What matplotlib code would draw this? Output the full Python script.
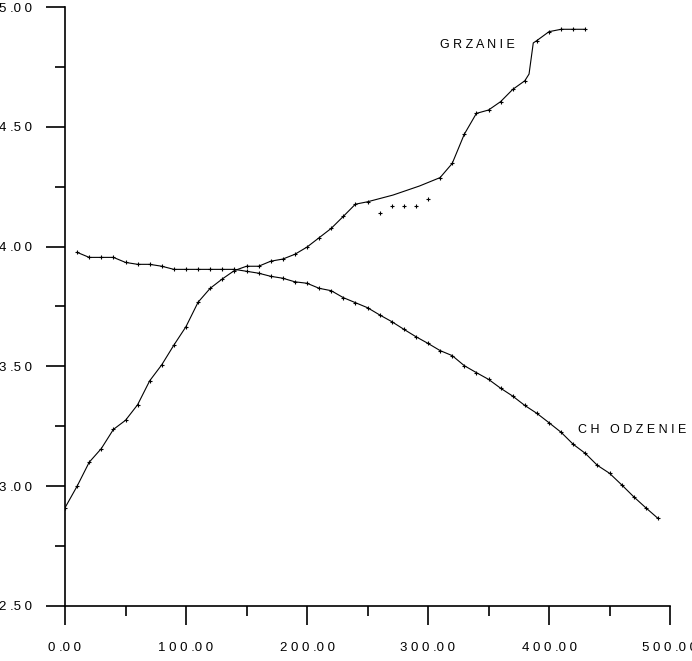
import matplotlib
matplotlib.use("Agg")
import matplotlib.pyplot as plt

# ---- data ----
grz_x = [0, 10, 20, 30, 40, 50, 60, 70, 80, 90, 100, 110, 120, 130, 140, 150, 160, 170,
         180, 190, 200, 210, 220, 230, 240, 250, 271, 293, 310, 320, 330, 340, 350, 360,
         370, 380, 383.5, 387, 390, 400, 410, 420, 430]
grz_y = [2.91, 3.00, 3.10, 3.157, 3.237, 3.275, 3.34, 3.44, 3.507, 3.589, 3.666, 3.768,
         3.826, 3.865, 3.90, 3.918, 3.918, 3.939, 3.948, 3.968, 3.998, 4.037, 4.076, 4.126,
         4.177, 4.187, 4.215, 4.253, 4.288, 4.347, 4.469, 4.556, 4.570, 4.605, 4.656, 4.692,
         4.72, 4.85, 4.86, 4.897, 4.907, 4.907, 4.907]
grz_unmarked_x = [271, 293, 383.5, 387]
grz_dots_x = [260, 270, 280, 290, 300]
grz_dots_y = [4.139, 4.168, 4.168, 4.168, 4.197]

cho_x = list(range(10, 500, 10))
cho_y = [3.976, 3.955, 3.955, 3.955, 3.934, 3.926, 3.926, 3.918, 3.905, 3.905, 3.905,
         3.905, 3.905, 3.905, 3.897, 3.889, 3.876, 3.868, 3.853, 3.847, 3.826, 3.816,
         3.787, 3.766, 3.745, 3.715, 3.687, 3.655, 3.624, 3.596, 3.566, 3.545, 3.503,
         3.474, 3.446, 3.409, 3.376, 3.337, 3.304, 3.265, 3.225, 3.175, 3.137, 3.087,
         3.054, 3.006, 2.956, 2.910, 2.866]

x_ticks = [0, 100, 200, 300, 400, 500]
x_ticklabels = ["0 .0 0", "1 0 0 .0 0", "2 0 0 .0 0", "3 0 0 .0 0", "4 0 0 .0 0", "5 0 0 .0 0"]
y_ticks = [2.5, 3.0, 3.5, 4.0, 4.5, 5.0]
y_ticklabels = ["2 .5 0", "3 .0 0", "3 .5 0", "4 .0 0", "4 .5 0", "5 .0 0"]
series_labels = ["G R Z A N I E", "C H   O D Z E N I E"]
label_pos = [(310, 4.84), (424, 3.235)]

plt.rcParams['font.family'] = ['Liberation Sans', 'DejaVu Sans']

fig = plt.figure(figsize=(6.92, 6.61), dpi=100)
ax = fig.add_axes([65/692, 55/661, 605/692, 599/661])
ax.set_xlim(0, 500)
ax.set_ylim(2.5, 5.0)

marked = [i for i, x in enumerate(grz_x) if x not in grz_unmarked_x]
ax.plot(grz_x, grz_y, color='black', lw=0.8, marker='+', ms=3.5, mew=0.8, markevery=marked)
ax.plot(grz_dots_x, grz_dots_y, ls='none', color='black', marker='+', ms=3, mew=0.8)
ax.plot(cho_x, cho_y, color='black', lw=0.8, marker='+', ms=3.5, mew=0.8)

for lab, (lx, ly) in zip(series_labels, label_pos):
    ax.text(lx, ly, lab, ha='left', va='center', fontsize=9)

for s in ['top', 'right']:
    ax.spines[s].set_visible(False)
for s in ['left', 'bottom']:
    ax.spines[s].set_linewidth(1.2)

ax.set_xticks(x_ticks)
ax.set_xticklabels(x_ticklabels, fontsize=9.5)
ax.set_xticks([50, 150, 250, 350, 450], minor=True)
ax.set_yticks(y_ticks)
ax.set_yticklabels(y_ticklabels, fontsize=9.5)
ax.set_yticks([2.75, 3.25, 3.75, 4.25, 4.75], minor=True)
ax.tick_params(which='major', direction='out', length=14, width=1.2)
ax.tick_params(which='minor', direction='out', length=7, width=1.2)
ax.tick_params(axis='y', which='major', pad=10)
ax.tick_params(axis='x', which='major', pad=12)

fig.savefig("out.png", dpi=100)
